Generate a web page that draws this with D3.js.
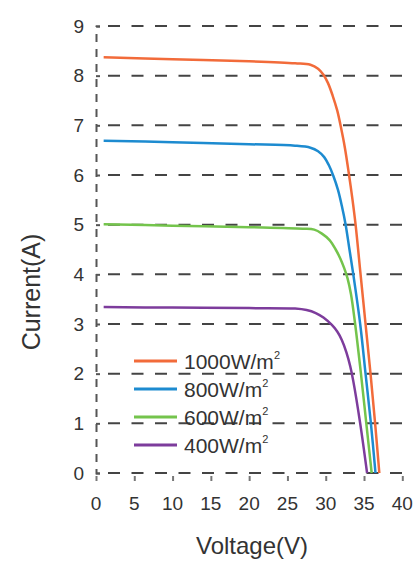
<!DOCTYPE html>
<html>
<head>
<meta charset="utf-8">
<script src="https://cdn.jsdelivr.net/npm/d3@7"></script>
<style>
  html, body { margin: 0; padding: 0; background: #fff; }
  svg { display: block; font-family: "Liberation Sans", Arial, sans-serif; }
</style>
</head>
<body>
<svg id="chart" width="414" height="564"></svg>
<script>
// ---- data ----
const seriesNames = ["1000W/m", "800W/m", "600W/m", "400W/m"];
const seriesColors = ["#f26b3a", "#1d8bd0", "#74c44c", "#7d3c9c"];

const v1000 = [1, 10, 20, 26, 28, 29, 29.7, 30.3, 30.9, 31.5, 32.0, 32.5, 33.0, 33.5, 33.9, 34.55, 35.2, 35.85, 36.45, 37.0];
const i1000 = [8.37, 8.33, 8.29, 8.25, 8.22, 8.14, 8.02, 7.85, 7.6, 7.3, 6.95, 6.55, 6.05, 5.5, 5.0, 4.0, 3.0, 2.0, 1.0, 0];

const v800 = [1, 10, 20, 26, 28, 29, 29.8, 30.4, 31.0, 31.6, 32.1, 32.6, 33.1, 33.6, 34.5, 35.2, 35.9, 36.5];
const i800 = [6.69, 6.66, 6.62, 6.59, 6.55, 6.48, 6.36, 6.2, 5.98, 5.7, 5.38, 5.0, 4.5, 4.0, 3.0, 2.0, 1.0, 0];

const v600 = [1, 10, 20, 27, 28.5, 29.5, 30.5, 31.3, 31.9, 32.4, 32.85, 33.3, 33.8, 34.6, 35.3, 36.0];
const i600 = [5.01, 4.98, 4.95, 4.92, 4.9, 4.82, 4.69, 4.5, 4.32, 4.13, 3.92, 3.6, 3.05, 2.0, 1.0, 0];

const v400 = [1, 10, 20, 26, 27.5, 28.7, 29.7, 30.8, 31.5, 32.1, 32.7, 33.2, 33.6, 34.5, 35.4];
const i400 = [3.34, 3.33, 3.32, 3.31, 3.28, 3.22, 3.13, 2.98, 2.85, 2.68, 2.43, 2.15, 1.85, 1.0, 0];

const xTicks = [0, 5, 10, 15, 20, 25, 30, 35, 40];
const yTicks = [0, 1, 2, 3, 4, 5, 6, 7, 8, 9];
const xTitle = "Voltage(V)";
const yTitle = "Current(A)";

// ---- drawing ----
const svg = d3.select("#chart");
const x = d3.scaleLinear().domain([0, 40]).range([96, 402.3]);
const y = d3.scaleLinear().domain([0, 9]).range([473, 26]);

const series = [
  { name: seriesNames[0], color: seriesColors[0], v: v1000, i: i1000 },
  { name: seriesNames[1], color: seriesColors[1], v: v800, i: i800 },
  { name: seriesNames[2], color: seriesColors[2], v: v600, i: i600 },
  { name: seriesNames[3], color: seriesColors[3], v: v400, i: i400 }
];

// horizontal dashed grid lines
svg.append("g").selectAll("line").data(yTicks).join("line")
  .attr("x1", 108).attr("x2", 412)
  .attr("y1", d => y(d)).attr("y2", d => y(d))
  .attr("stroke", "#444").attr("stroke-width", 2)
  .attr("stroke-dasharray", "12,11.5");

// y axis (dashed vertical line + small ticks)
const yAxis = svg.append("g").attr("transform", `translate(${x(0)},0)`)
  .call(d3.axisRight(y).tickValues(yTicks).tickSize(4).tickFormat(""));
yAxis.select(".domain").attr("stroke", "#555").attr("stroke-width", 2)
  .attr("stroke-dasharray", "8,7");
yAxis.selectAll(".tick line").attr("stroke", "#555").attr("stroke-width", 2);

// y tick labels
svg.append("g").selectAll("text").data(yTicks).join("text")
  .attr("x", 84).attr("y", d => y(d))
  .attr("text-anchor", "end").attr("dominant-baseline", "central")
  .attr("font-size", 19).attr("fill", "#333")
  .text(d => d);

// x axis ticks
const xAxis = svg.append("g").attr("transform", `translate(0,${y(0) + 3})`)
  .call(d3.axisBottom(x).tickValues(xTicks).tickSize(5).tickFormat(""));
xAxis.select(".domain").remove();
xAxis.selectAll(".tick line").attr("stroke", "#777").attr("stroke-width", 2);

// x tick labels
svg.append("g").selectAll("text").data(xTicks).join("text")
  .attr("x", d => x(d)).attr("y", 503)
  .attr("text-anchor", "middle").attr("dominant-baseline", "central")
  .attr("font-size", 19).attr("fill", "#333")
  .text(d => d);

// axis titles
svg.append("text").attr("x", 252).attr("y", 545)
  .attr("text-anchor", "middle").attr("dominant-baseline", "central")
  .attr("font-size", 24).attr("fill", "#333").text(xTitle);
svg.append("text").attr("transform", "translate(31,292) rotate(-90)")
  .attr("text-anchor", "middle").attr("dominant-baseline", "central")
  .attr("font-size", 25).attr("fill", "#333").text(yTitle);

// curves
const line = d3.line().x(d => x(d[0])).y(d => y(d[1])).curve(d3.curveCatmullRom.alpha(0.5));
svg.append("g").selectAll("path").data(series).join("path")
  .attr("d", s => line(s.v.map((v, k) => [v, s.i[k]])))
  .attr("fill", "none").attr("stroke", s => s.color).attr("stroke-width", 2.5);

// legend
const legendY = [361, 389, 417, 445];
const lg = svg.append("g").selectAll("g").data(series).join("g")
  .attr("transform", (s, k) => `translate(0,${legendY[k]})`);
lg.append("line").attr("x1", 134).attr("x2", 177).attr("y1", 0).attr("y2", 0)
  .attr("stroke", s => s.color).attr("stroke-width", 3);
const lt = lg.append("text").attr("x", 184).attr("y", 0)
  .attr("dominant-baseline", "central").attr("font-size", 21).attr("fill", "#333");
lt.append("tspan").text(s => s.name);
lt.append("tspan").attr("font-size", 11).attr("dy", -6).text("2");
</script>
</body>
</html>
